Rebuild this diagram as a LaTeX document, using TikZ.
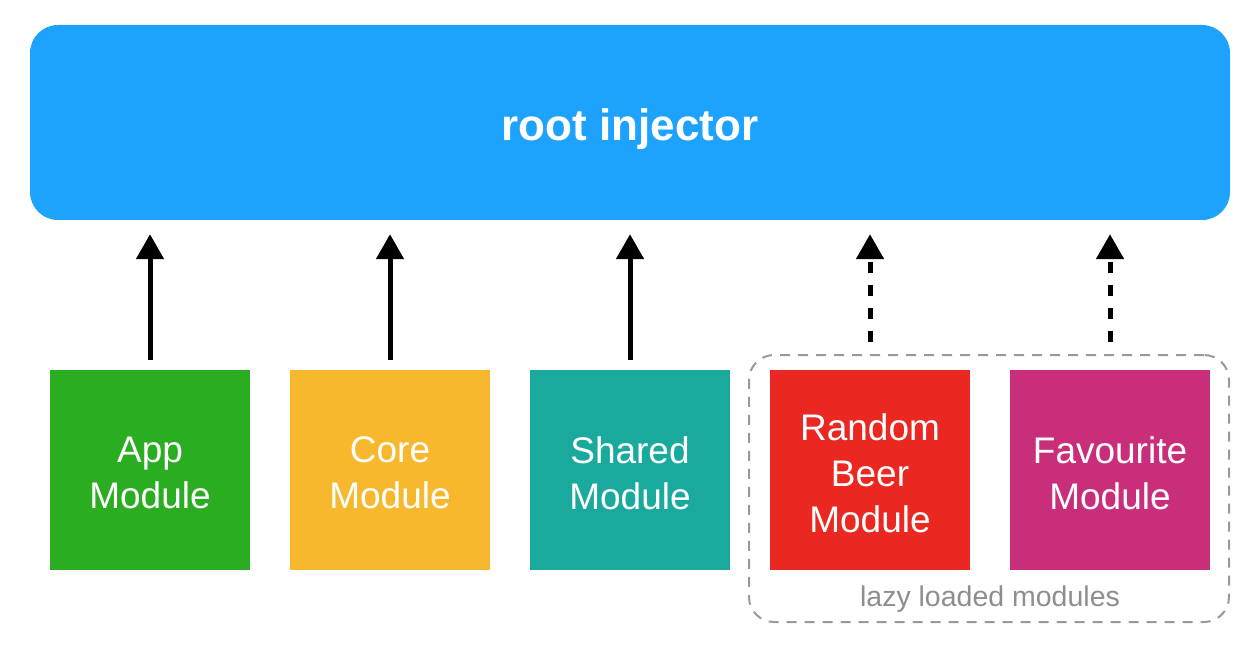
\documentclass[tikz,border=0pt]{standalone}
\usepackage{fontspec}
\setmainfont{Liberation Sans}
\usetikzlibrary{arrows.meta}
\definecolor{rootblue}{HTML}{1DA3FE}
\definecolor{appgreen}{HTML}{2AAD20}
\definecolor{coreorange}{HTML}{F7B82D}
\definecolor{sharedteal}{HTML}{1AA99D}
\definecolor{beerred}{HTML}{EA2720}
\definecolor{favmagenta}{HTML}{C92E7A}
\definecolor{lazygray}{HTML}{999999}
\definecolor{lazytext}{HTML}{8E8E8E}
\begin{document}
\begin{tikzpicture}[x=1pt,y=-1pt,
  modbox/.style={draw=none, minimum width=200pt, minimum height=200pt, inner sep=0pt},
  modtext/.style={inner sep=0pt, align=center, text=white, font=\fontsize{37}{46}\selectfont},
  deparrow/.style={line width=5pt, -{Triangle[length=25pt,width=27pt]},
    shorten <=10pt, shorten >=14pt},
  lazyarrow/.style={deparrow, shorten <=28pt, dash pattern=on 11pt off 12pt},
  lazyframe/.style={draw=lazygray, line width=2pt, dash pattern=on 10pt off 8pt,
    rounded corners=25pt, minimum width=480pt, minimum height=267pt, inner sep=0pt}
]
\useasboundingbox (0,0) rectangle (1258,660);
\node[fill=rootblue, rounded corners=28pt, minimum width=1200pt, minimum height=195pt,
  inner sep=0pt] (root) at (630,122.5) {};
\node[inner sep=0pt, text=white, font=\fontsize{44}{50}\selectfont\bfseries] (roottext) at (630,129.5) {root injector};
\node[lazyframe] (lazy) at (989,488.5) {};
\node[modbox, fill=appgreen] (app) at (150,470) {};
\node[modbox, fill=coreorange] (core) at (390,470) {};
\node[modbox, fill=sharedteal] (shared) at (630,470) {};
\node[modbox, fill=beerred] (beer) at (870,470) {};
\node[modbox, fill=favmagenta] (fav) at (1110,470) {};
\node[modtext] (apptext) at (150,473) {App\\Module};
\node[modtext] (coretext) at (390,473) {Core\\Module};
\node[modtext] (sharedtext) at (630,473) {Shared\\Module};
\node[modtext] (beertext) at (870,473) {Random\\Beer\\Module};
\node[modtext] (favtext) at (1110,473) {Favourite\\Module};
\node[text=lazytext, font=\fontsize{28.5}{32}\selectfont] (lazylabel) at (990,599) {lazy loaded modules};
\draw[deparrow] (app.north) -- (app.north |- root.south);
\draw[deparrow] (core.north) -- (core.north |- root.south);
\draw[deparrow] (shared.north) -- (shared.north |- root.south);
\draw[lazyarrow] (beer.north) -- (beer.north |- root.south);
\draw[lazyarrow] (fav.north) -- (fav.north |- root.south);
\end{tikzpicture}
\end{document}
